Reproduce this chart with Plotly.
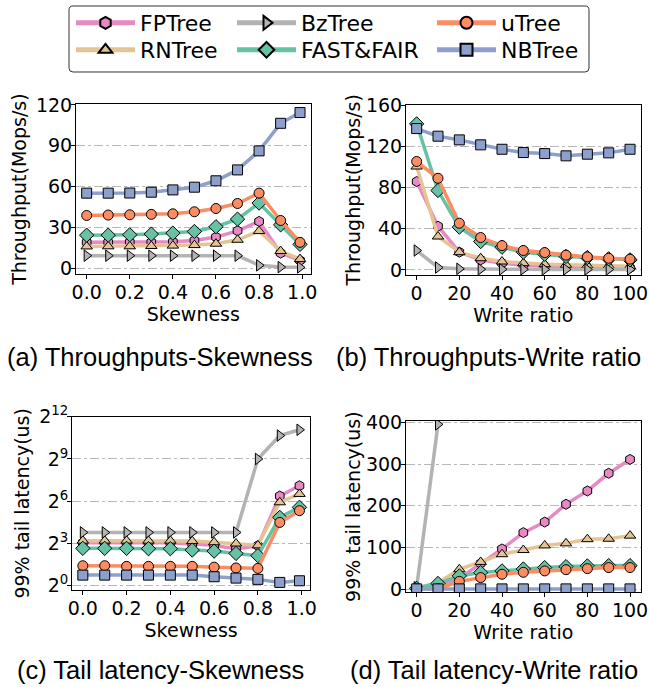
import plotly.graph_objects as go

# ---------------- data ----------------
names = ["FPTree", "RNTree", "BzTree", "FAST&FAIR", "uTree", "NBTree"]
colors = ["#e78ac3", "#e5c494", "#b3b3b3", "#66c2a5", "#fc8d62", "#8da0cb"]
symbols = ["hexagon", "triangle-up", "triangle-right", "diamond", "circle", "square"]

skewness = [0.0, 0.1, 0.2, 0.3, 0.4, 0.5, 0.6, 0.7, 0.8, 0.9, 0.99]
write_ratio = [0, 10, 20, 30, 40, 50, 60, 70, 80, 90, 100]

# (a) throughput (Mops/s) vs skewness
tput_skew_fptree = [18.9, 18.9, 19.0, 19.0, 19.3, 20.3, 22.8, 27.4, 34.3, 11.0, 5.6]
tput_skew_rntree = [15.9, 16.0, 16.0, 16.2, 16.5, 16.9, 17.9, 20.8, 27.2, 12.5, 6.6]
tput_skew_bztree = [9.1, 9.1, 9.1, 9.1, 9.1, 9.1, 9.1, 9.1, 2.0, 0.7, 0.5]
tput_skew_ff = [24.2, 24.2, 24.5, 25.0, 25.7, 26.9, 30.4, 36.0, 47.8, 31.8, 17.4]
tput_skew_utree = [38.7, 39.0, 39.2, 39.5, 39.9, 41.4, 43.8, 47.5, 55.1, 35.0, 18.9]
tput_skew_nbtree = [55.1, 55.1, 55.2, 55.8, 57.5, 59.5, 64.2, 72.2, 86.2, 106.5, 114.4]

# (b) throughput (Mops/s) vs write ratio
tput_wr_fptree = [85.8, 42.4, 17.2, 9.7, 6.5, 4.5, 3.6, 2.9, 2.6, 2.3, 1.9]
tput_wr_rntree = [100.4, 32.4, 17.2, 11.3, 8.1, 6.5, 5.5, 4.9, 4.2, 3.9, 3.6]
tput_wr_bztree = [18.8, 2.3, 1.0, 0.6, 0.5, 0.5, 0.4, 0.4, 0.4, 0.4, 0.4]
tput_wr_ff = [141.9, 77.1, 41.5, 27.5, 22.0, 17.2, 15.2, 13.0, 12.0, 10.7, 9.7]
tput_wr_utree = [105.3, 89.0, 45.3, 31.4, 23.6, 18.8, 16.8, 14.3, 12.6, 11.3, 10.4]
tput_wr_nbtree = [137.3, 129.9, 126.3, 121.5, 117.2, 114.0, 113.0, 110.8, 112.4, 113.7, 117.2]

# (c) 99% tail latency (us) vs skewness
lat_skew_fptree = [8.3, 8.3, 8.3, 8.3, 8.3, 7.8, 7.3, 6.1, 7.2, 82.7, 137.2]
lat_skew_rntree = [9.2, 9.2, 9.2, 9.2, 9.2, 9.0, 8.5, 8.0, 7.3, 60.7, 91.6]
lat_skew_bztree = [13.8, 13.8, 13.8, 13.8, 13.8, 13.8, 13.8, 13.8, 512.0, 1620.0, 2150.0]
lat_skew_ff = [6.3, 6.3, 6.3, 6.2, 6.2, 5.8, 5.5, 4.9, 4.4, 29.0, 47.5]
lat_skew_utree = [2.68, 2.68, 2.6, 2.6, 2.6, 2.6, 2.5, 2.4, 2.35, 22.6, 40.2]
lat_skew_nbtree = [1.69, 1.69, 1.69, 1.69, 1.69, 1.69, 1.56, 1.46, 1.37, 1.18, 1.28]

# (d) 99% tail latency (us) vs write ratio (BzTree leaves the chart after 10%)
lat_wr_fptree = [2.4, 6.0, 26.0, 62.0, 96.6, 135.7, 161.0, 203.6, 235.5, 277.8, 311.0]
lat_wr_rntree = [4.0, 16.0, 48.0, 65.5, 84.0, 94.0, 105.0, 110.0, 120.0, 121.0, 128.5]
lat_wr_bztree = [5.0, 395.0, None, None, None, None, None, None, None, None, None]
lat_wr_ff = [2.4, 14.0, 32.0, 40.0, 44.0, 48.7, 52.0, 54.3, 56.0, 56.7, 56.7]
lat_wr_utree = [0.8, 1.6, 19.0, 28.0, 36.0, 40.7, 44.0, 47.0, 49.5, 52.0, 52.0]
lat_wr_nbtree = [1.0, 1.0, 1.0, 1.0, 1.0, 1.0, 1.0, 1.0, 1.0, 1.0, 1.0]

log_ticks = [1, 8, 64, 512, 4096]
log_tick_text = ["2<sup>0</sup>", "2<sup>3</sup>", "2<sup>6</sup>", "2<sup>9</sup>", "2<sup>12</sup>"]

panels = [
    (skewness, [tput_skew_fptree, tput_skew_rntree, tput_skew_bztree, tput_skew_ff, tput_skew_utree, tput_skew_nbtree]),
    (write_ratio, [tput_wr_fptree, tput_wr_rntree, tput_wr_bztree, tput_wr_ff, tput_wr_utree, tput_wr_nbtree]),
    (skewness, [lat_skew_fptree, lat_skew_rntree, lat_skew_bztree, lat_skew_ff, lat_skew_utree, lat_skew_nbtree]),
    (write_ratio, [lat_wr_fptree, lat_wr_rntree, lat_wr_bztree, lat_wr_ff, lat_wr_utree, lat_wr_nbtree]),
]
legend_ids = ["legend", "legend2", "legend3", "legend4", "legend5", "legend6"]

W, H = 649, 687
FS = 19
TICKFONT = dict(family="DejaVu Sans", size=FS, color="black")

fig = go.Figure()
for p, (xs, series) in enumerate(panels):
    suffix = "" if p == 0 else str(p + 1)
    for i, ys in enumerate(series):
        fig.add_trace(go.Scatter(
            x=xs, y=ys, name=names[i], mode="lines+markers",
            xaxis="x" + suffix, yaxis="y" + suffix,
            line=dict(color=colors[i], width=3.5),
            marker=dict(symbol=symbols[i], size=10 if symbols[i] != "diamond" else 11,
                        color=colors[i], line=dict(color="black", width=1)),
            showlegend=(p == 0), legend=legend_ids[i],
        ))

def px_x(a, b):
    return [a / W, b / W]

def px_y(top, bottom):
    return [1 - bottom / H, 1 - top / H]

axis_common = dict(showline=True, linecolor="black", linewidth=1, mirror=True,
                   ticks="outside", ticklen=4, tickwidth=1, tickcolor="black",
                   tickfont=TICKFONT, zeroline=False)
ygrid = dict(showgrid=True, gridcolor="#b8b8b8", gridwidth=1, griddash="dashdot",
             ticklabelstandoff=-5)
xcommon = dict(showgrid=False, ticklabelstandoff=-3)
title_font = dict(family="DejaVu Sans", size=FS, color="black")

skew_ticks = dict(tickvals=[0, 0.2, 0.4, 0.6, 0.8, 1.0], ticktext=["0.0", "0.2", "0.4", "0.6", "0.8", "1.0"])
wr_ticks = dict(tickvals=[0, 20, 40, 60, 80, 100])

fig.update_layout(
    width=W, height=H, margin=dict(l=0, r=0, t=0, b=0, autoexpand=False),
    plot_bgcolor="white", paper_bgcolor="white",
    xaxis=dict(domain=px_x(76, 310.7), range=[-0.0495, 1.0395], anchor="y",
               title=dict(text="Skewness", font=title_font, standoff=1), **skew_ticks, **xcommon, **axis_common),
    yaxis=dict(domain=px_y(104, 274.3), range=[-4.6, 120.7], tickvals=[0, 30, 60, 90, 120], anchor="x",
               title=dict(text="Throughput(Mops/s)", font=title_font, standoff=4), **ygrid, **axis_common),
    xaxis2=dict(domain=px_x(406, 640.7), range=[-5, 105], anchor="y2",
                title=dict(text="Write ratio", font=title_font, standoff=1), **wr_ticks, **xcommon, **axis_common),
    yaxis2=dict(domain=px_y(104.7, 275), range=[-5, 160.5], tickvals=[0, 40, 80, 120, 160], anchor="x2",
                title=dict(text="Throughput(Mops/s)", font=title_font, standoff=0), **ygrid, **axis_common),
    xaxis3=dict(domain=px_x(72, 310.3), range=[-0.0495, 1.0395], anchor="y3",
                title=dict(text="Skewness", font=title_font, standoff=1), **skew_ticks, **xcommon, **axis_common),
    yaxis3=dict(domain=px_y(416.7, 590), type="log", range=[-0.3 * 0.30103, 12 * 0.30103], anchor="x3",
                tickvals=log_ticks, ticktext=log_tick_text,
                title=dict(text="99% tail latency(us)", font=title_font, standoff=4), **ygrid, **axis_common),
    xaxis4=dict(domain=px_x(406, 640.7), range=[-5, 105], anchor="y4",
                title=dict(text="Write ratio", font=title_font, standoff=1), **wr_ticks, **xcommon, **axis_common),
    yaxis4=dict(domain=px_y(421, 592.3), range=[-7.2, 403], tickvals=[0, 100, 200, 300, 400], anchor="x4",
                title=dict(text="99% tail latency(us)", font=title_font, standoff=0), **ygrid, **axis_common),
)

# one legend per entry, laid out as 3 columns x 2 rows like the reference
LEGFONT = dict(family="DejaVu Sans", size=22, color="black")
leg_common = dict(orientation="v", xanchor="left", yanchor="top", bgcolor="rgba(0,0,0,0)",
                  borderwidth=0, font=LEGFONT, itemsizing="constant", itemwidth=59)
col_x = [71, 71, 232, 232, 432, 432]
row_top = [2, 29, 2, 29, 2, 29]
fig.update_layout(**{
    lid: dict(x=col_x[k] / W, y=1 - row_top[k] / H, **leg_common)
    for k, lid in enumerate(legend_ids)
})

# legend frame (rounded rectangle)
x0, x1, y0, y1, r = 69, 589, 6, 72, 4
path = (f"M {x0 + r},{y0} L {x1 - r},{y0} Q {x1},{y0} {x1},{y0 + r} L {x1},{y1 - r} "
        f"Q {x1},{y1} {x1 - r},{y1} L {x0 + r},{y1} Q {x0},{y1} {x0},{y1 - r} "
        f"L {x0},{y0 + r} Q {x0},{y0} {x0 + r},{y0} Z")
def conv(path):
    out = []
    for tok in path.split():
        if "," in tok:
            a, b = tok.split(",")
            out.append(f"{float(a) / W:.5f},{1 - float(b) / H:.5f}")
        else:
            out.append(tok)
    return " ".join(out)
fig.add_shape(type="path", path=conv(path), xref="paper", yref="paper",
              line=dict(color="#333333", width=1), fillcolor="rgba(0,0,0,0)", layer="above")

captions = [("(a) Throughputs-Skewness", 160, 357), ("(b) Throughputs-Write ratio", 488, 357),
            ("(c) Tail latency-Skewness", 160, 670), ("(d) Tail latency-Write ratio", 494, 670)]
for text, cx, cy in captions:
    fig.add_annotation(text=text, x=cx / W, y=1 - cy / H, xref="paper", yref="paper",
                       showarrow=False, xanchor="center", yanchor="middle",
                       font=dict(family="Liberation Sans", size=25.5, color="black"))

fig.write_html("out.html", config={"displayModeBar": False},
               post_script="document.body.style.margin='0px';")
